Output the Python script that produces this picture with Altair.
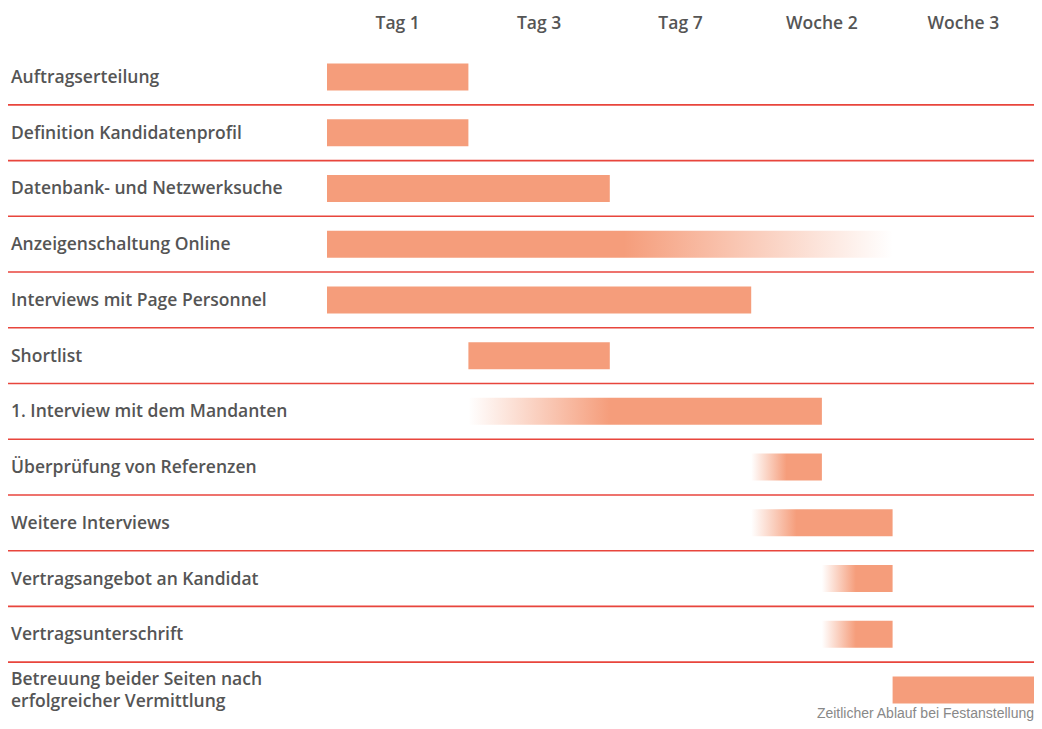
import altair as alt
import pandas as pd

# ---- data ----
headers = ["Tag 1", "Tag 3", "Tag 7", "Woche 2", "Woche 3"]
tasks = [
    "Auftragserteilung",
    "Definition Kandidatenprofil",
    "Datenbank- und Netzwerksuche",
    "Anzeigenschaltung Online",
    "Interviews mit Page Personnel",
    "Shortlist",
    "1. Interview mit dem Mandanten",
    "Überprüfung von Referenzen",
    "Weitere Interviews",
    "Vertragsangebot an Kandidat",
    "Vertragsunterschrift",
    "Betreuung beider Seiten nach\nerfolgreicher Vermittlung",
]
starts = [0, 0, 0, 0, 0, 1, 1, 3, 3, 3.5, 3.5, 4]
ends = [1, 1, 2, 4, 3, 2, 3.5, 3.5, 4, 4, 4, 5]
# fade: "in" = fades in at the start, "out" = fades out at the end, "" = solid
fades = ["", "", "", "out", "", "", "in", "in", "in", "in", "in", ""]
fade_len = [0, 0, 0, 1.9, 0, 0, 1.0, 0.25, 0.32, 0.24, 0.24, 0]
caption = "Zeitlicher Ablauf bei Festanstellung"

BAR = "#F59D7B"
RED = "#E8453C"
TXT = "#555555"
FONT = "Open Sans"
FS = 17.5

W, H = 1026, 713
X_RANGE = [319, 1026]
Y_RANGE = [69, 682]
half = 13.5 / ((Y_RANGE[1] - Y_RANGE[0]) / (len(tasks) - 1))

xs = alt.Scale(domain=[0, 5], range=X_RANGE)
ys = alt.Scale(domain=[0, len(tasks) - 1], range=Y_RANGE)

rows = pd.DataFrame({"row": list(range(len(tasks))), "x0": starts, "x1": ends, "fade": fades})
rows["y0"] = rows["row"] - half
rows["y1"] = rows["row"] + half


def bars(df, color):
    return alt.Chart(df).mark_rect(color=color).encode(
        x=alt.X("x0:Q", scale=xs, axis=None),
        x2="x1:Q",
        y=alt.Y("y0:Q", scale=ys, axis=None),
        y2="y1:Q",
    )


def grad(kind, frac):
    if kind == "in":
        stops = [
            alt.GradientStop(color="#ffffff", offset=0),
            alt.GradientStop(color=BAR, offset=frac),
            alt.GradientStop(color=BAR, offset=1),
        ]
    else:
        stops = [
            alt.GradientStop(color=BAR, offset=0),
            alt.GradientStop(color=BAR, offset=1 - frac),
            alt.GradientStop(color="#ffffff", offset=1),
        ]
    return alt.Gradient(gradient="linear", stops=stops, x1=0, x2=1, y1=0, y2=0)


seps = pd.DataFrame({"y": [i + 0.5 for i in range(len(tasks) - 1)]})
rules = alt.Chart(seps).mark_rule(color=RED, strokeWidth=1.6).encode(
    y=alt.Y("y:Q", scale=ys, axis=None),
    x=alt.value(0),
    x2=alt.value(W),
)

labels_df = pd.DataFrame({"task": tasks, "row": list(range(len(tasks)))})
labels_df["lines"] = labels_df["task"].str.count("\n") + 1


def label_layer(df, dy):
    return alt.Chart(df).mark_text(
        align="left", baseline="middle", font=FONT, fontSize=FS, fontWeight=600,
        color=TXT, lineBreak="\n", lineHeight=22, dy=dy,
    ).encode(
        y=alt.Y("row:Q", scale=ys, axis=None),
        x=alt.value(3),
        text="task:N",
    )


single = label_layer(labels_df[labels_df["lines"] == 1], 1)
multi = label_layer(labels_df[labels_df["lines"] > 1], -10)

head_df = pd.DataFrame({"h": headers, "pos": [i + 0.5 for i in range(len(headers))]})
head = alt.Chart(head_df).mark_text(
    align="center", baseline="middle", font=FONT, fontSize=FS, fontWeight=600, color=TXT,
).encode(
    x=alt.X("pos:Q", scale=xs, axis=None),
    y=alt.value(16),
    text="h:N",
)

cap = alt.Chart(pd.DataFrame({"c": [caption]})).mark_text(
    align="right", baseline="alphabetic", font="Liberation Sans", fontSize=14, color="#888888",
).encode(x=alt.value(W), y=alt.value(710), text="c:N")

layers = [rules, bars(rows[rows["fade"] == ""], BAR)]
for i, (f, fl) in enumerate(zip(fades, fade_len)):
    if f:
        frac = fl / (ends[i] - starts[i])
        layers.append(bars(rows[rows["row"] == i], grad(f, frac)))
layers += [single, multi, head, cap]

chart = alt.layer(*layers).properties(
    width=W, height=H, padding=0, autosize=alt.AutoSizeParams(type="none"),
).configure_view(stroke=None)

chart.save("out.html", embed_options={"renderer": "svg", "actions": False})
